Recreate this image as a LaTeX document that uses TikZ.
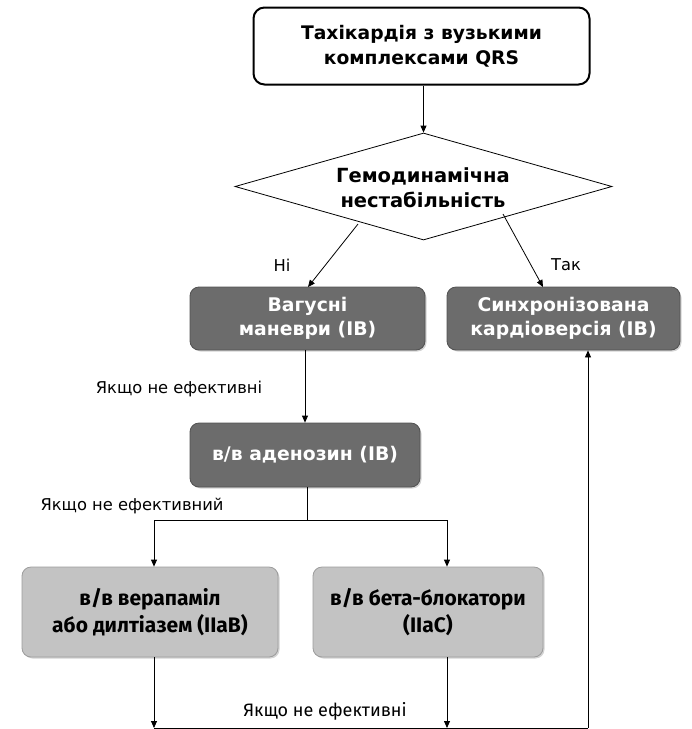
\documentclass[tikz,border=0pt]{standalone}
\usepackage{fontspec}
\setmainfont{DejaVu Sans}
\newfontfamily\condfont{Fira Sans}
\usetikzlibrary{shapes.geometric,arrows.meta,shadows}
\definecolor{darkbox}{HTML}{6C6C6C}
\definecolor{lightbox}{HTML}{C3C3C3}
\begin{document}
\begin{tikzpicture}[x=1pt,y=-1pt,
  arr/.style={-{Triangle[length=7pt,width=6pt]},line width=0.8pt},
  ln/.style={line width=0.8pt},
  darkstyle/.style={rounded corners=9pt,fill=darkbox,draw=darkbox!75!black,line width=0.8pt,
    text=white,font=\bfseries\fontsize{18.8}{23.5}\selectfont,align=center,inner sep=0pt,
    drop shadow={shadow xshift=1.5pt,shadow yshift=-1.5pt,opacity=0.35}},
  lightstyle/.style={rounded corners=9pt,fill=lightbox,draw=lightbox!80!black,line width=0.8pt,
    text=black,font=\condfont\bfseries\fontsize{21}{27}\selectfont,align=center,inner sep=0pt,
    drop shadow={shadow xshift=1.5pt,shadow yshift=-1.5pt,opacity=0.35}},
  lbl/.style={font=\fontsize{16.3}{18}\selectfont,inner sep=0pt}
]
\useasboundingbox (0,0) rectangle (692,729);
% top box
\node[draw,line width=2pt,rounded corners=11pt,fill=white,minimum width=336pt,minimum height=77pt,
  inner sep=0pt,align=center,font=\bfseries\fontsize{18.7}{25}\selectfont] (top) at (421.5,46)
  {Тахікардія з вузькими\\комплексами QRS};
% diamond
\node[draw,line width=0.8pt,diamond,aspect=3.52,minimum width=377pt,minimum height=107pt,inner sep=0pt] (dia) at (423.5,186.5) {};
\node[align=center,inner sep=0pt,font=\bfseries\fontsize{19.5}{25}\selectfont] (diat) at (423,188) {Гемодинамічна\\нестабільність};
% second row
\node[darkstyle,minimum width=235pt,minimum height=63pt] (vag) at (307.5,318.5) {Вагусні\\маневри (IB)};
\node[darkstyle,minimum width=233pt,minimum height=63pt] (syn) at (563.5,318.5) {Синхронізована\\кардіоверсія (IB)};
% adenosine
\node[darkstyle,minimum width=230pt,minimum height=64pt] (ade) at (305,455) {в/в аденозин (IB)};
% bottom row
\node[lightstyle,minimum width=256pt,minimum height=90pt] (ver) at (150,612) {в/в верапаміл\\або дилтіазем (IIaB)};
\node[lightstyle,minimum width=230pt,minimum height=90pt] (bet) at (428,612) {в/в бета-блокатори\\(IIaC)};
% connectors
\draw[arr] (top.south -| dia.north) -- (dia.north);
\coordinate (dl) at (358,224);
\coordinate (dr) at (503,214);
\coordinate (vagin) at (308,287);
\coordinate (synin) at (543,287);
\draw[arr] (dl) -- (vagin);
\draw[arr] (dr) -- (synin);
\node[lbl] (ni) at (282,265) {Ні};
\node[lbl] (tak) at (566,265) {Так};
\coordinate (vagout) at (305,350);
\draw[arr] (vagout) -- (ade.north -| vagout);
\node[lbl] (l1) at (179,389) {Якщо не ефективні};
\coordinate (split) at (307,520);
\draw[ln] (ade.south -| split) -- (split);
\coordinate (sl) at (154,520);
\coordinate (sr) at (447,520);
\draw[ln] (sl) -- (sr);
\draw[arr] (sl) -- (ver.north -| sl);
\draw[arr] (sr) -- (bet.north -| sr);
\node[lbl] (l2) at (132,506) {Якщо не ефективний};
\coordinate (bl) at (154,728);
\coordinate (br) at (447,728);
\coordinate (bc) at (588,728);
\draw[arr] (ver.south -| bl) -- (bl);
\draw[arr] (bet.south -| br) -- (br);
\draw[ln] (bl) -- (bc);
\draw[arr] (bc) -- (syn.south -| bc);
\node[lbl,font=\condfont\fontsize{18}{20}\selectfont] (l3) at (325,711) {Якщо не ефективні};
\end{tikzpicture}
\end{document}
